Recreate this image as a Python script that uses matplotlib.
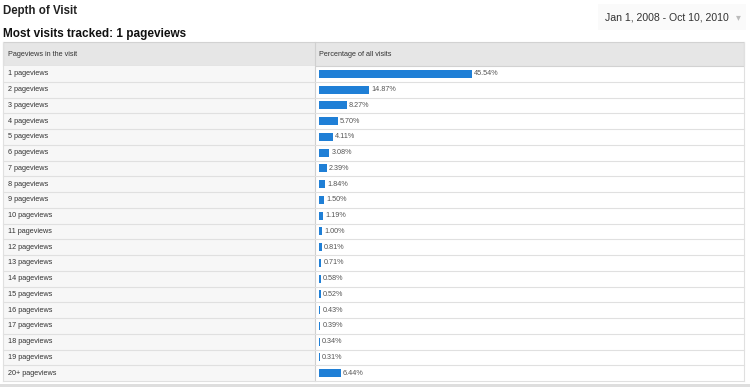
import numpy as np
import matplotlib
matplotlib.use("Agg")
import matplotlib.pyplot as plt
from matplotlib.patches import Rectangle

plt.rcParams['font.family'] = ['Liberation Sans', 'DejaVu Sans']

title = "Depth of Visit"
subtitle = "Most visits tracked: 1 pageviews"
date_range = "Jan 1, 2008 - Oct 10, 2010"
col_headers = ["Pageviews in the visit", "Percentage of all visits"]
categories = ["%d pageviews" % i for i in range(1, 20)] + ["20+ pageviews"]
percentages = [45.54, 14.87, 8.27, 5.70, 4.11, 3.08, 2.39, 1.84, 1.50, 1.19,
               1.00, 0.81, 0.71, 0.58, 0.52, 0.43, 0.39, 0.34, 0.31, 6.44]

W, H = 750, 387
fig = plt.figure(figsize=(W / 100, H / 100), dpi=100)

# background axes in pixel coords
bg = fig.add_axes([0, 0, 1, 1])
bg.set_xlim(0, W)
bg.set_ylim(H, 0)
bg.axis('off')

tab_l, tab_r = 3, 744
col_x = 315
head_t, head_b = 42, 66
row_h = 15.75
n = len(categories)
tab_b = head_b + n * row_h

bg.text(3, 11, title, fontsize=8.3, fontweight='bold', va='center', ha='left', color='#222222')
bg.text(3, 34, subtitle, fontsize=8.5, fontweight='bold', va='center', ha='left', color='#111111')
bg.add_patch(Rectangle((598, 4), 148, 26, facecolor='#fafafa', edgecolor='none'))
bg.text(729, 17, date_range, fontsize=7.6, va='center', ha='right', color='#333333')
bg.text(738, 17, u"\u25be", fontsize=7, va='center', ha='center', color='#bbbbbb')

# header
bg.add_patch(Rectangle((tab_l, head_t), tab_r - tab_l, head_b - head_t,
                       facecolor='#e6e6e6', edgecolor='#d2d2d2', lw=0.8))
bg.plot([col_x, col_x], [head_t, tab_b], color='#d0d0d0', lw=0.8)
bg.text(8, (head_t + head_b) / 2, col_headers[0], fontsize=5.2, va='center', color='#333333')
bg.text(319, (head_t + head_b) / 2, col_headers[1], fontsize=5.2, va='center', color='#333333')

# rows
bg.add_patch(Rectangle((tab_l, head_b), col_x - tab_l, tab_b - head_b,
                       facecolor='#f7f7f7', edgecolor='none'))
for i, cat in enumerate(categories):
    yc = head_b + (i + 0.5) * row_h
    bg.text(8, yc, cat, fontsize=5.2, va='center', color='#333333')
    yb = head_b + (i + 1) * row_h
    bg.plot([tab_l, tab_r], [yb, yb], color='#e0e0e0', lw=0.8)
bg.plot([tab_l, tab_l], [head_t, tab_b], color='#e0e0e0', lw=0.8)
bg.plot([tab_r, tab_r], [head_t, tab_b], color='#e0e0e0', lw=0.8)
bg.add_patch(Rectangle((0, 384), W, 3, facecolor='#dedede', edgecolor='none'))

# bar axes over the right column
px_per_pct = 3.36
bar_l, bar_r = 319, tab_r
ax = fig.add_axes([bar_l / W, 1 - tab_b / H, (bar_r - bar_l) / W, (tab_b - head_b) / H])
ax.set_xlim(0, (bar_r - bar_l) / px_per_pct)
ax.set_ylim(n - 0.5, -0.5)
ax.axis('off')
ax.patch.set_alpha(0)
y = np.arange(n)
ax.barh(y, percentages, height=0.5, color='#1f7fd6', left=0)
for yi, v in zip(y, percentages):
    ax.text(v + 0.6, yi, "%.2f%%" % v, fontsize=5.2, va='center', ha='left', color='#555555')

fig.savefig("out.png", dpi=100)
